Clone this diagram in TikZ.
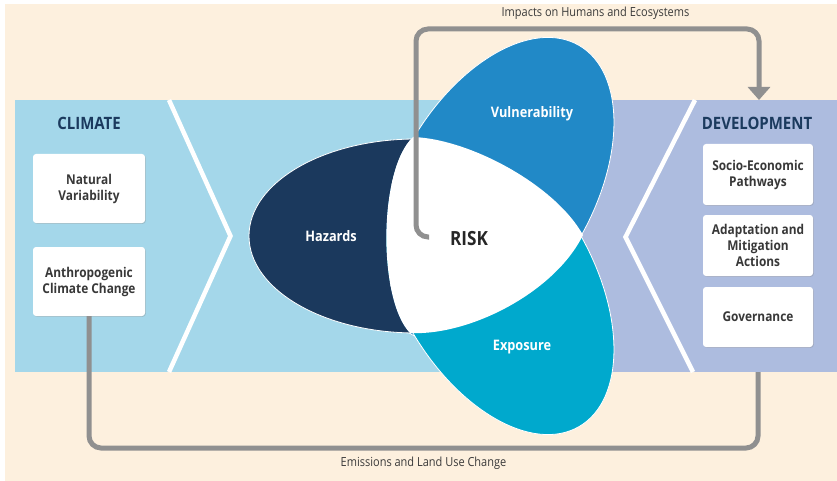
\documentclass[tikz,border=0pt]{standalone}
\usepackage{fontspec}
\setmainfont{Open Sans}[FakeStretch=0.88]
\usetikzlibrary{arrows.meta,shadows}

\definecolor{cream}{HTML}{FDF0DE}
\definecolor{bandblue}{HTML}{A4D7EA}
\definecolor{bandlav}{HTML}{ADBCDF}
\definecolor{titlenavy}{HTML}{1B3A5E}
\definecolor{hazardcol}{HTML}{1B395D}
\definecolor{vulnercol}{HTML}{2189C7}
\definecolor{exposcol}{HTML}{00A9CD}
\definecolor{conncol}{HTML}{909090}
\definecolor{boxtext}{HTML}{383838}
\definecolor{labeltext}{HTML}{3A3A3A}

% petal outlines
\def\hazardpetal{(416,236) ellipse [x radius=167, y radius=97]}
\def\vulnerpetal{[rotate around={60:(495.5,190)}] (495.5,190) ellipse [x radius=167, y radius=97]}
\def\expospetal{[rotate around={-60:(495.5,282)}] (495.5,282) ellipse [x radius=167, y radius=97]}

\begin{document}
\begin{tikzpicture}[x=1pt,y=-1pt,
  infobox/.style={fill=white, rounded corners=3pt, align=center,
    font=\fontsize{13.5}{16}\selectfont\bfseries, text=boxtext,
    inner sep=0pt,
    drop shadow={shadow xshift=0.8pt, shadow yshift=-0.8pt, opacity=0.3}},
  sidetitle/.style={font=\fontsize{17}{20}\selectfont\bfseries, text=titlenavy},
  petal/.style={draw=white, line width=0.8pt},
  petallabel/.style={font=\fontsize{14.5}{17}\selectfont\bfseries, text=white},
  chevron/.style={draw=white, line width=4.5pt},
  flowline/.style={draw=conncol, line width=5pt, rounded corners=12pt},
  flowlabel/.style={font=\fontsize{12.5}{15}\selectfont, text=labeltext}]

% canvas and backdrop
\useasboundingbox (0,0) rectangle (837,481);
\fill[white] (0,0) rectangle (837,481);
\fill[cream] (5,4) rectangle (837,481);

% the two bands
\fill[bandblue] (15,100) rectangle (572,372);
\fill[bandlav] (572,100) rectangle (837,372);

% chevrons
\draw[chevron] (169,100) -- (230.5,236) -- (169,372);
\draw[chevron] (695,100) -- (625.5,237) -- (693,372);

% titles
\node[sidetitle] (climate) at (89,123) {CLIMATE};
\node[sidetitle] (development) at (757,123) {DEVELOPMENT};

% climate boxes
\node[infobox, minimum width=112pt, minimum height=69pt] (natural) at (89,188.5) {Natural\\Variability};
\node[infobox, minimum width=112pt, minimum height=69pt] (anthro) at (89,281.5) {Anthropogenic\\Climate Change};

% development boxes
\node[infobox, minimum width=110pt, minimum height=61pt] (socio) at (758,174.5) {Socio-Economic\\Pathways};
\node[infobox, minimum width=110pt, minimum height=61pt] (adapt) at (758,245.5) {Adaptation and\\Mitigation\\Actions};
\node[infobox, minimum width=110pt, minimum height=60pt] (gov) at (758,317) {Governance};

% vulnerability petal
\path[petal, fill=vulnercol] \vulnerpetal;
% exposure petal, lower half over vulnerability
\begin{scope}
  \clip (300,236) rectangle (700,481);
  \path[petal, fill=exposcol] \expospetal;
\end{scope}
% hazards petal, left of the risk area
\begin{scope}
  \clip (413,0) -- (413,137) .. controls (378,170) and (378,300) .. (410,333) -- (410,481) -- (0,481) -- (0,0) -- cycle;
  \path[petal, fill=hazardcol] \hazardpetal;
\end{scope}
% central risk area
\fill[white] (413,137) .. controls (470,139) and (555,185) .. (583,235)
  .. controls (555,292) and (470,336) .. (410,333)
  .. controls (378,300) and (378,170) .. (413,137) -- cycle;

% petal labels
\node[petallabel] (hazards) at (331,236) {Hazards};
\node[petallabel] (vulnerability) at (532,114) {Vulnerability};
\node[petallabel] (exposure) at (522,347) {Exposure};
\node[font=\fontsize{19.5}{22}\selectfont\bfseries, text=black!85] (risk) at (469,239) {RISK};

% connector anchors
\coordinate (riskin) at (429,237);
\coordinate (devtop) at (759,100);
\coordinate (devbottom) at (758,372);
\coordinate (toprow) at (416,29);
\coordinate (bottomrow) at (90,448);

% impacts arrow
\draw[flowline, -{Triangle[width=22pt,length=13pt]}]
  (riskin) -- (riskin -| toprow) -- (toprow) -- (toprow -| devtop) -- (devtop);
\node[flowlabel] (impacts) at (595.5,13) {Impacts on Humans and Ecosystems};

% emissions line
\draw[flowline] (anthro.south) -- (anthro.south |- bottomrow) -- (devbottom |- bottomrow) -- (devbottom);
\node[flowlabel] (emissions) at (423.5,463) {Emissions and Land Use Change};

\end{tikzpicture}
\end{document}
